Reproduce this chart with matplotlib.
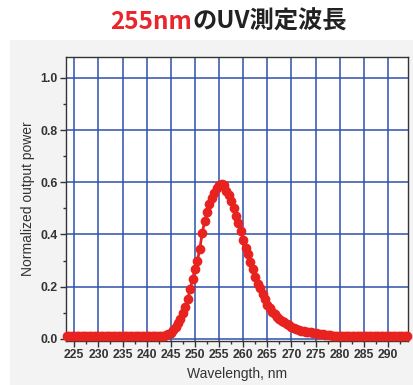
import matplotlib.pyplot as plt
from matplotlib.patches import Rectangle
from matplotlib.ticker import MultipleLocator

# wavelength (nm), 0.5 nm steps
wavelength = [223.5 + 0.5 * i for i in range(142)]

power = [
    # 223.5 - 228.0
    0.012, 0.012, 0.012, 0.012, 0.012, 0.012, 0.012, 0.012, 0.012, 0.012,
    # 228.5 - 233.0
    0.012, 0.012, 0.012, 0.012, 0.012, 0.012, 0.012, 0.012, 0.012, 0.012,
    # 233.5 - 238.0
    0.012, 0.012, 0.012, 0.012, 0.012, 0.012, 0.012, 0.012, 0.012, 0.012,
    # 238.5 - 243.0
    0.012, 0.012, 0.012, 0.012, 0.012, 0.012, 0.012, 0.012, 0.012, 0.012,
    # 243.5 - 248.0
    0.013, 0.015, 0.018, 0.024, 0.033, 0.045, 0.060, 0.078, 0.100, 0.124,
    # 248.5 - 253.0
    0.153, 0.190, 0.228, 0.268, 0.300, 0.345, 0.405, 0.450, 0.485, 0.515,
    # 253.5 - 258.0
    0.540, 0.560, 0.578, 0.590, 0.595, 0.588, 0.568, 0.550, 0.530, 0.500,
    # 258.5 - 263.0
    0.470, 0.443, 0.415, 0.378, 0.350, 0.325, 0.296, 0.268, 0.238, 0.212,
    # 263.5 - 268.0
    0.194, 0.172, 0.152, 0.131, 0.117, 0.104, 0.094, 0.085, 0.078, 0.070,
    # 268.5 - 273.0
    0.064, 0.058, 0.052, 0.047, 0.042, 0.038, 0.035, 0.032, 0.030, 0.028,
    # 273.5 - 278.0
    0.026, 0.025, 0.023, 0.021, 0.020, 0.018, 0.017, 0.016, 0.015, 0.014,
    # 278.5 - 283.0
    0.013, 0.013, 0.012, 0.012, 0.012, 0.012, 0.012, 0.012, 0.012, 0.012,
    # 283.5 - 288.0
    0.012, 0.012, 0.012, 0.012, 0.012, 0.012, 0.012, 0.012, 0.012, 0.012,
    # 288.5 - 294.0
    0.012, 0.012, 0.012, 0.012, 0.012, 0.012, 0.012, 0.012, 0.012, 0.012,
    0.012, 0.012,
]

xticks = list(range(225, 295, 5))
yticks = [0.0, 0.2, 0.4, 0.6, 0.8, 1.0]

fig = plt.figure(figsize=(4.14, 3.85), dpi=100, facecolor='white')
# light grey panel behind the chart
fig.patches.append(Rectangle((10 / 414, 0), 1, 1 - 40 / 385, transform=fig.transFigure,
                             facecolor='#f3f3f3', edgecolor='none', zorder=-5))

ax = fig.add_axes([66 / 414, 1 - 341 / 385, (408 - 66) / 414, (341 - 57) / 385])
ax.set_facecolor('white')

ax.plot(wavelength, power, color='#e8231f', lw=2, marker='o', ms=6,
        mec='#e8231f', mfc='#e8231f', zorder=3, clip_on=False)

ax.set_xlim(223.28, 294.14)
ax.set_ylim(-0.008, 1.08)
ax.set_xticks(xticks)
ax.set_yticks(yticks)
ax.set_yticklabels(['%.1f' % v for v in yticks])
ax.xaxis.set_minor_locator(MultipleLocator(2.5))
ax.yaxis.set_minor_locator(MultipleLocator(0.1))
ax.grid(True, which='major', color='#2f4fb0', lw=1.1)
ax.set_axisbelow(True)

ax.tick_params(which='major', direction='out', length=4, width=1, color='#333333',
               labelsize=8.8, labelcolor='#333333', pad=2)
ax.tick_params(which='minor', direction='out', length=2.5, width=1, color='#333333')
for lab in ax.get_xticklabels() + ax.get_yticklabels():
    lab.set_family('Liberation Sans')
    lab.set_fontweight('bold')
for s in ax.spines.values():
    s.set_color('#333333')
    s.set_linewidth(1)

ax.set_xlabel('Wavelength, nm', fontsize=10, family='Liberation Sans', color='#333333', labelpad=4)
ax.set_ylabel('Normalized output power', fontsize=10, family='Liberation Sans', color='#333333', labelpad=4)

# two-colour title
fig.text(192 / 414, 1 - 22 / 385, '255nm', ha='right', va='center', fontsize=17.5,
         fontweight='bold', color='#e8262b', family=['Noto Sans CJK JP', 'DejaVu Sans'])
fig.text(192 / 414, 1 - 22 / 385, 'のUV測定波長', ha='left', va='center', fontsize=17.5,
         fontweight='bold', color='#222222', family=['Noto Sans CJK JP', 'DejaVu Sans'])

fig.savefig('out.png', dpi=100, facecolor=fig.get_facecolor())
